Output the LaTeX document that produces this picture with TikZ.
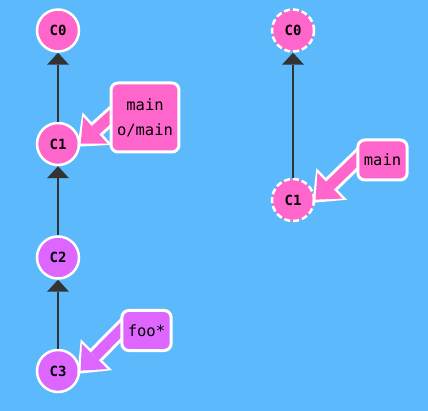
\documentclass[tikz,border=0pt]{standalone}
\usepackage{fontspec}
\setmonofont{DejaVu Sans Mono}
\usetikzlibrary{arrows.meta,positioning}

\definecolor{bgblue}{HTML}{5CB9FC}
\definecolor{pinkc}{HTML}{FF66CC}
\definecolor{violetc}{HTML}{DD66FF}
\definecolor{edgec}{HTML}{333333}

\pgfdeclarelayer{back}
\pgfdeclarelayer{front}
\pgfsetlayers{back,main,front}

\begin{document}
\begin{tikzpicture}[
  x=1pt, y=-1pt,
  node distance=69pt,
  commit/.style={circle, draw=white, line width=2.5pt, minimum size=42pt, inner sep=0pt, font=\ttfamily\bfseries\fontsize{14}{14}\selectfont},
  ghost/.style={commit, dash pattern=on 6pt off 3pt},
  branch/.style={rectangle, rounded corners=7pt, draw=white, line width=3pt, inner xsep=6pt, minimum height=40pt, align=center, font=\ttfamily\fontsize{15.5}{25}\selectfont},
  parent/.style={-{Triangle[width=22pt, length=12pt, line width=0pt]}, draw=edgec, line width=2.5pt},
  ptrout/.style={-{Triangle[width=44pt, length=27pt, line width=0pt]}, draw=white, line width=17pt, shorten <=-12pt, shorten >=-4pt},
  ptrin/.style={-{Triangle[width=36pt, length=20pt, line width=0pt]}, line width=11pt, shorten <=-12pt, shorten >=0.5pt}
]

\begin{pgfonlayer}{back}
\fill[bgblue] (0,0) rectangle (428,411);
\end{pgfonlayer}

% local repo
\node[commit, fill=violetc] (c3) at (58,371) {C3};
\node[commit, fill=violetc, above=of c3] (c2) {C2};
\node[commit, fill=pinkc, above=of c2] (c1) {C1};
\node[commit, fill=pinkc, above=of c1] (c0) {C0};

% remote repo
\node[ghost, fill=pinkc] (rc1) at (293,200) {C1};
\node[ghost, fill=pinkc, above=125pt of rc1] (rc0) {C0};

\begin{pgfonlayer}{front}
\node[branch, fill=pinkc, minimum height=69pt] (lmain) at (145,117.5) {main\\o/main};
\node[branch, fill=violetc] (lfoo) at (146.5,330.5) {foo*};
\node[branch, fill=pinkc] (rmain) at (382.5,160) {main};
\end{pgfonlayer}

\draw[parent] (c1) -- (c0);
\draw[parent] (c2) -- (c1);
\draw[parent] (c3) -- (c2);
\draw[parent] (rc1) -- (rc0);

\draw[ptrout] (lmain.west) -- (c1.east);
\draw[ptrin, draw=pinkc] (lmain.west) -- (c1.east);
\draw[ptrout] (lfoo.west) -- (c3.east);
\draw[ptrin, draw=violetc] (lfoo.west) -- (c3.east);
\draw[ptrout] (rmain.west) -- (rc1.east);
\draw[ptrin, draw=pinkc] (rmain.west) -- (rc1.east);

\end{tikzpicture}
\end{document}
